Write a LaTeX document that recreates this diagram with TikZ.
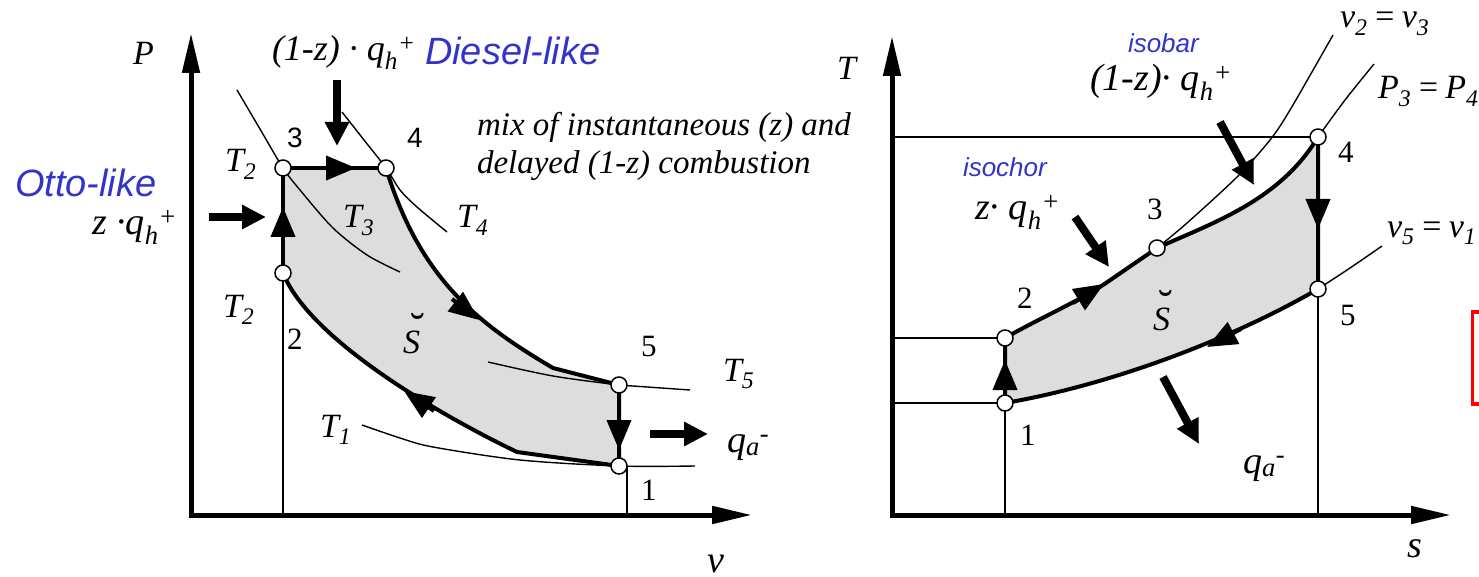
\documentclass[tikz,border=0pt]{standalone}
\usepackage{fontspec}
\setmainfont{Liberation Serif}
\newfontfamily\lserif{Liberation Serif}
\newfontfamily\lsans{Liberation Sans}
\usetikzlibrary{arrows.meta}
\definecolor{labblue}{RGB}{51,51,204}
\definecolor{cycfill}{RGB}{221,221,221}
\newcommand{\fs}[1]{\fontsize{#1}{#1}\selectfont}
\tikzset{
  lab/.style={inner sep=0pt, outer sep=0pt, anchor=base west, font=\fs{34}\lserif\itshape},
  qlab/.style={lab, font=\fs{38}\lserif\itshape},
  note/.style={lab, font=\fs{33}\lserif\itshape},
  digit/.style={lab, font=\fs{31}\lserif\upshape},
  sdigit/.style={lab, font=\fs{28}\lsans\upshape},
  bluelab/.style={lab, font=\fs{38}\lsans\itshape, text=labblue},
  smallblue/.style={lab, font=\fs{26}\lsans\itshape, text=labblue},
  brv/.style={inner sep=0pt, anchor=base, font=\fs{44}\lserif},
  stpt/.style={circle, draw, fill=white, line width=1.5pt, minimum size=16pt, inner sep=0pt},
  cyc/.style={line width=4pt, line join=round},
  cycarrow/.style={line width=4pt, -{Triangle[length=30pt,width=24pt]}},
  thinl/.style={line width=1.4pt},
  axisl/.style={line width=5pt, -{Triangle[length=40pt,width=17pt]}},
  heat/.style={line width=8pt, -{Triangle[length=24pt,width=23pt]}}
}
\begin{document}
\begin{tikzpicture}[x=1pt,y=-1pt]
\useasboundingbox (0,0) rectangle (1479,577);
\clip (0,0) rectangle (1479,577);

% ===================== LEFT: P-v diagram =====================
\coordinate (a1) at (619,466);
\coordinate (a2) at (283,273);
\coordinate (a3) at (283,168);
\coordinate (a4) at (386,168);
\coordinate (a5) at (619,385);
\coordinate (aex) at (553,368);
\coordinate (acp) at (517,452);
\coordinate (aPbot) at (191,517.5);
\coordinate (aPtop) at (191,33);
\coordinate (avbeg) at (188.5,515);
\coordinate (avend) at (752,515);
\coordinate (a2foot) at (283,515);
\coordinate (a1top) at (627,466);
\coordinate (a1foot) at (627,515);

\fill[cycfill] (a2) -- (a3) -- (a4) .. controls (420,280) and (480,325) .. (aex) -- (a5) -- (a1) -- (acp) .. controls (440,415) and (310,340) .. (a2) -- cycle;

% isotherms
\draw[thinl] plot[smooth] coordinates {(237,90) (260,129) (a3) (300,190) (333,228) (367,255) (400,272)};
\draw[thinl] plot[smooth] coordinates {(342,112) (364,140) (a4) (400,190) (417,207) (447,232)};
\draw[thinl] plot[smooth] coordinates {(488,362) (553,376) (a5) (633,386) (690,390)};
\draw[thinl] plot[smooth] coordinates {(362,425) (400,438) (433,447) (520,460) (a1) (695,466)};

\draw[thinl] (a2) -- (a2foot);
\draw[thinl] (a1top) -- (a1foot);

% cycle
\draw[cyc] (a2) -- (a3) -- (a4);
\draw[cyc] (a4) .. controls (420,280) and (480,325) .. (aex) -- (a5) -- (a1);
\draw[cyc] (a1) -- (acp) .. controls (440,415) and (310,340) .. (a2);

% direction arrows on the cycle
\coordinate (ar23s) at (283,245); \coordinate (ar23e) at (283,207);
\coordinate (ar34s) at (318,168); \coordinate (ar34e) at (356,168);
\coordinate (ar45s) at (452,299); \coordinate (ar45e) at (479,320);
\coordinate (ar51s) at (619,412); \coordinate (ar51e) at (619,450);
\coordinate (ar12s) at (434,411); \coordinate (ar12e) at (404,391);
\draw[cycarrow] (ar23s) -- (ar23e);
\draw[cycarrow] (ar34s) -- (ar34e);
\draw[cycarrow] (ar45s) -- (ar45e);
\draw[cycarrow] (ar51s) -- (ar51e);
\draw[cycarrow] (ar12s) -- (ar12e);

% axes
\draw[axisl] (aPbot) -- (aPtop);
\draw[axisl] (avbeg) -- (avend);

% points
\node[stpt] (A1) at (a1) {};
\node[stpt] (A2) at (a2) {};
\node[stpt] (A3) at (a3) {};
\node[stpt] (A4) at (a4) {};
\node[stpt] (A5) at (a5) {};

% heat arrows
\coordinate (hOs) at (209,217); \coordinate (hOe) at (266,217);
\coordinate (hDs) at (337,80);  \coordinate (hDe) at (337,146);
\coordinate (hAs) at (650,434); \coordinate (hAe) at (708,434);
\draw[heat] (hOs) -- (hOe);
\draw[heat] (hDs) -- (hDe);
\draw[heat] (hAs) -- (hAe);

% labels
\node[lab] (lP) at (133,65) {P};
\node[qlab, font=\fs{36}\lserif\itshape] (lq1) at (272,61) {(1-z) · q\textsubscript{h}\textsuperscript{+}};
\node[bluelab] (lD) at (425,65) {Diesel-like};
\node[note] (lm1) at (477,136) {mix of instantaneous (z) and};
\node[note] (lm2) at (477,174) {delayed (1-z) combustion};
\node[sdigit] (l3) at (287,148) {3};
\node[sdigit] (l4) at (407,148) {4};
\node[lab] (lT2a) at (225,172) {T\textsubscript{2}};
\node[bluelab] (lO) at (15,197) {Otto-like};
\node[qlab] (lzq) at (92,235) {z ·q\textsubscript{h}\textsuperscript{+}};
\node[lab] (lT3) at (343,228) {T\textsubscript{3}};
\node[lab] (lT4) at (457,228) {T\textsubscript{4}};
\node[lab] (lT2b) at (223,317) {T\textsubscript{2}};
\node[digit] (l2) at (287,349) {2};
\node[lab] (lS) at (403,353) {S};
\node[brv] (lSb) at (418,343) {˘};
\node[lab] (lT1) at (320,437) {T\textsubscript{1}};
\node[digit] (l5) at (641,356) {5};
\node[lab] (lT5) at (723,381) {T\textsubscript{5}};
\node[qlab] (lqa) at (727,452) {q\textsubscript{a}\textsuperscript{-}};
\node[digit] (l1) at (641,500) {1};
\node[qlab] (lv) at (707,572) {v};

% ===================== RIGHT: T-s diagram =====================
\coordinate (b1) at (1005,403);
\coordinate (b2) at (1005,338);
\coordinate (b3) at (1157,248);
\coordinate (b4) at (1318,137);
\coordinate (b5) at (1318,289);
\coordinate (bk) at (1103,285);
\coordinate (bTbot) at (892,517.5);
\coordinate (bTtop) at (892,36);
\coordinate (bsbeg) at (889.5,515);
\coordinate (bsend) at (1451,515);
\coordinate (bh4) at (892,137);
\coordinate (bh2) at (892,338);
\coordinate (bh1) at (892,403);
\coordinate (bf1) at (1005,515);
\coordinate (bf5) at (1318,515);

\fill[cycfill] (b1) -- (b2) .. controls (1040,318) and (1075,303) .. (bk) -- (b3) .. controls (1215,222) and (1280,200) .. (b4) -- (b5) .. controls (1230,340) and (1110,385) .. (b1) -- cycle;

\draw[thinl] (bh4) -- (b4);
\draw[thinl] (bh2) -- (b2);
\draw[thinl] (bh1) -- (b1);
\draw[thinl] (b1) -- (bf1);
\draw[thinl] (b5) -- (bf5);

\draw[thinl] plot[smooth] coordinates {(b3) (1187,223) (1237,177) (1270,140) (1290,110) (1333,35)};
\draw[thinl] plot[smooth] coordinates {(b4) (1345,100) (1374,64)};
\draw[thinl] plot[smooth] coordinates {(b5) (1350,268) (1382,246)};

\draw[cyc] (b1) -- (b2) .. controls (1040,318) and (1075,303) .. (bk) -- (b3);
\draw[cyc] (b3) .. controls (1215,222) and (1280,200) .. (b4) -- (b5);
\draw[cyc] (b5) .. controls (1230,340) and (1110,385) .. (b1);

\coordinate (br12s) at (1005,398); \coordinate (br12e) at (1005,360);
\coordinate (br23s) at (1073,303); \coordinate (br23e) at (1104,284);
\coordinate (br45s) at (1318,192); \coordinate (br45e) at (1318,229);
\coordinate (br51s) at (1241,329); \coordinate (br51e) at (1207,347);
\draw[cycarrow] (br12s) -- (br12e);
\draw[cycarrow] (br23s) -- (br23e);
\draw[cycarrow] (br45s) -- (br45e);
\draw[cycarrow] (br51s) -- (br51e);

\draw[axisl] (bTbot) -- (bTtop);
\draw[axisl] (bsbeg) -- (bsend);

\node[stpt] (B1) at (b1) {};
\node[stpt] (B2) at (b2) {};
\node[stpt] (B3) at (b3) {};
\node[stpt] (B4) at (b4) {};
\node[stpt] (B5) at (b5) {};

\coordinate (hIs) at (1075,217); \coordinate (hIe) at (1109,267);
\coordinate (hBs) at (1220,122); \coordinate (hBe) at (1254,185);
\coordinate (hRs) at (1163,377); \coordinate (hRe) at (1199,444);
\draw[heat] (hIs) -- (hIe);
\draw[heat] (hBs) -- (hBe);
\draw[heat] (hRs) -- (hRe);

\node[lab] (rT) at (837,80) {T};
\node[smallblue] (rib) at (1128,53) {isobar};
\node[qlab] (rq1) at (1090,91) {(1-z)· q\textsubscript{h}\textsuperscript{+}};
\node[lab] (rv23) at (1340,28) {v\textsubscript{2}\,=\,v\textsubscript{3}};
\node[lab] (rP34) at (1378,99) {P\textsubscript{3}\,=\,P\textsubscript{4}};
\node[digit] (r4) at (1338,163) {4};
\node[smallblue] (ric) at (963,177) {isochor};
\node[qlab] (rzq) at (975,220) {z· q\textsubscript{h}\textsuperscript{+}};
\node[digit] (r3) at (1147,220) {3};
\node[lab] (rv51) at (1387,237) {v\textsubscript{5}\,=\,v\textsubscript{1}};
\node[digit] (r2) at (1017,308) {2};
\node[lab] (rS) at (1153,330) {S};
\node[brv] (rSb) at (1166,320) {˘};
\node[digit] (r5) at (1340,325) {5};
\node[digit] (r1) at (1020,445) {1};
\node[qlab] (rqa) at (1243,473) {q\textsubscript{a}\textsuperscript{-}};
\node[qlab] (rs) at (1407,557) {s};

% partial red frame at the right edge
\draw[red, line width=3.5pt] (1472.5,312) rectangle (1530,404);
\end{tikzpicture}
\end{document}
